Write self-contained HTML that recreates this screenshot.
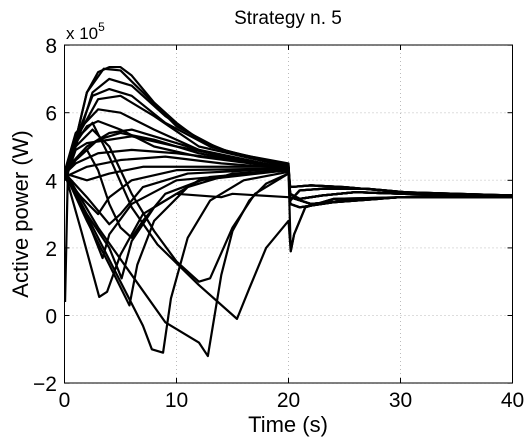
<!DOCTYPE html>
<html><head><meta charset="utf-8"><style>
body{margin:0;background:#fff;}
svg text{font-family:"Liberation Sans",sans-serif;fill:#000;}
</style></head><body>
<svg id="c" width="528" height="437" xmlns="http://www.w3.org/2000/svg">
<rect width="528" height="437" fill="#fff"/>
<g id="grid"></g><g id="lines"></g><g id="axes"></g>
</svg>
<script>
const xTicks=[0,10,20,30,40];
const yTicks=[-2,0,2,4,6,8];
const yTickLabels=["\u22122","0","2","4","6","8"];
const T1=" 20.15,3.6 21,3.45 23,3.55 26,3.65 30,3.6 35,3.55 40,3.55";
const T2=" 20.15,3.4 21,3.7 23,3.75 27,3.75 32,3.6 40,3.55";
const T3=" 20.2,1.9 20.5,2.4 21.5,3.2 24,3.45 30,3.5 40,3.55";
const T4=" 20.15,3.5 22,3.3 25,3.4 30,3.5 40,3.5";
const T5=" 20.15,3.8 22,3.85 25,3.8 30,3.65 40,3.55";
const T6=" 20.15,3.3 21,3.2 24,3.35 30,3.5 40,3.55";
const seriesPeak=[
"0.05,0.4 0.3,4.2 1,5.2 2,6.6 3,7.2 4,7.35 5,7.35 6,7.1 8,6.3 10,5.7 12,5.2 15,4.8 20,4.5"+T1,
"0.05,4.2 0.5,4.5 2,6.6 3.5,7.3 5,7.25 7,6.6 10,5.6 14,4.9 20,4.45"+T2,
"0.05,4.1 1,5 2.5,6.6 4,7.0 6,6.8 9,5.9 13,5.0 20,4.4"+T5,
"0.05,4.2 1,5.2 2.5,6.5 4,6.7 6,6.5 9,5.7 13,5.0 20,4.4"+T6,
"0.05,4.2 1.5,5.5 3,6.4 5,6.5 8,5.9 12,5.0 20,4.4"+T2,
"0.05,4.3 1,5.4 3,6.1 5,6.0 8,5.5 12,4.9 20,4.35"+T4,
"0.05,4.1 1,5.1 2,5.6 3,5.75 5,5.5 8,5.0 12,4.7 20,4.35"+T1,
"0.05,4.3 2,5.0 4,5.4 6,5.5 9,5.2 14,4.7 20,4.35"+T5,
"0.05,4.2 1,4.6 3,5.2 5,5.4 8,5.2 12,4.8 20,4.3"+T3,
"0.05,4.0 1,4.9 2,5.1 4,5.2 6,5.3 10,5.0 20,4.35"+T4,
"0.05,4.2 1,4.5 3,4.8 6,4.9 10,4.8 15,4.6 20,4.4"+T6,
"0.05,4.1 2,4.4 5,4.6 9,4.7 14,4.5 20,4.35"+T1
];
const seriesDip=[
"0.05,4.3 0.5,4.0 3,2.6 6,1.2 9,-0.2 12,-0.8 12.8,-1.2 14,1.2 15,2.5 16.5,3.4 18,3.9 20,4.2"+T1,
"0.05,4.2 3,2.3 5,1.0 7,-0.3 7.8,-1.0 8.8,-1.1 9.5,0.5 11,2.3 13,3.4 16,4.0 20,4.25"+T2,
"0.05,4.2 1,5.2 2.5,5.7 4,4.7 6,3.2 8.3,2.1 12,0.9 15.4,-0.1 16.5,0.8 18,2.0 20,2.8"+T3,
"0.05,4.2 1.5,2.5 3.1,0.55 3.8,0.7 5,1.8 7,3.0 10,3.6 14,3.5 15,3.6 20,3.5"+T4,
"0.05,4.2 2,2.8 4,1.5 5.8,0.3 6.5,1.5 8,2.8 11,3.8 15,4.2 20,4.3"+T5,
"0.05,4.2 2,3.0 4,2.0 5.1,1.1 6,2.2 8,3.2 12,4.0 20,4.3"+T6,
"0.05,4.2 1.5,3.3 3.4,1.7 4,2.4 6,3.3 10,4.0 20,4.3"+T4,
"0.05,4.2 2,3.5 4,2.7 5,3.0 7,3.8 11,4.2 20,4.35"+T1,
"0.05,4.1 1.5,3.5 3,3.0 4,3.5 6,4.0 10,4.3 20,4.35"+T2,
"0.05,4.2 2,4.0 4,4.2 7,4.4 20,4.4"+T4,
"0.05,4.2 1,5.0 2.5,5.5 4,5.0 6,3.6 8,2.5 10,1.6 12,1.0 13,1.1 15,2.6 17,3.6 20,4.2"+T5,
"0.05,4.2 1,4.6 2,4.9 3,4.3 4,3.3 5,2.6 6,2.3 7,2.8 9,3.6 13,4.1 20,4.3"+T6
];
const X0=64.5,XS=11.2,Y0=315.5,YS=33.8,L=64.5,R=512.5,TOP=45,BOT=383;
const sx=t=>X0+t*XS, sy=v=>Y0-v*YS;
const NS="http://www.w3.org/2000/svg";
function mk(tag,attrs,parent){const e=document.createElementNS(NS,tag);for(const k in attrs)e.setAttribute(k,attrs[k]);parent.appendChild(e);return e;}
const grid=document.getElementById('grid'),lines=document.getElementById('lines'),axes=document.getElementById('axes');
xTicks.forEach(t=>{
 const g=mk('line',{x1:sx(t),x2:sx(t),y1:TOP,y2:BOT,stroke:'#bbb','stroke-dasharray':'1,3'},grid);
 
 
 mk('line',{x1:sx(t),x2:sx(t),y1:BOT,y2:BOT-5,stroke:'#000'},axes);
 mk('line',{x1:sx(t),x2:sx(t),y1:TOP,y2:TOP+5,stroke:'#000'},axes);
 const l=mk('text',{x:sx(t),y:407,'font-size':21,'text-anchor':'middle'},axes);l.textContent=t;
 
 
});
yTicks.forEach((v,i)=>{
 const g=mk('line',{x1:L,x2:R,y1:sy(v),y2:sy(v),stroke:'#bbb','stroke-dasharray':'1,3'},grid);
 
 
 mk('line',{x1:L,x2:L+5,y1:sy(v),y2:sy(v),stroke:'#000'},axes);
 mk('line',{x1:R,x2:R-5,y1:sy(v),y2:sy(v),stroke:'#000'},axes);
 const l=mk('text',{x:57,y:sy(v)+8,'font-size':21,'text-anchor':'end'},axes);l.textContent=yTickLabels[i];
 
 
});
const fr=mk('rect',{x:L,y:TOP,width:R-L,height:BOT-TOP,fill:'none',stroke:'#000','stroke-width':1},axes);


function draw(arr,name){arr.forEach(s=>{
 const pts=s.trim().split(/\s+/).map(p=>p.split(',').map(Number));
 const p=mk('polyline',{points:pts.map(([t,v])=>sx(t)+','+sy(v)).join(' '),fill:'none',stroke:'#000','stroke-width':2.2,'stroke-linejoin':'round'},lines);
 
 
});}
draw(seriesPeak,'power-curve');
draw(seriesDip,'power-curve');
</script>
<svg style="position:absolute;left:0;top:0" width="528" height="437">
<text x="288" y="24" font-size="19" text-anchor="middle">Strategy n. 5</text>
<text x="66" y="39" font-size="17">x 10<tspan dy="-8" font-size="12">5</tspan></text>
<text x="288" y="432" font-size="22" text-anchor="middle">Time (s)</text>
<text transform="translate(28,214) rotate(-90)" font-size="22" text-anchor="middle">Active power (W)</text>
</svg>
</body></html>
